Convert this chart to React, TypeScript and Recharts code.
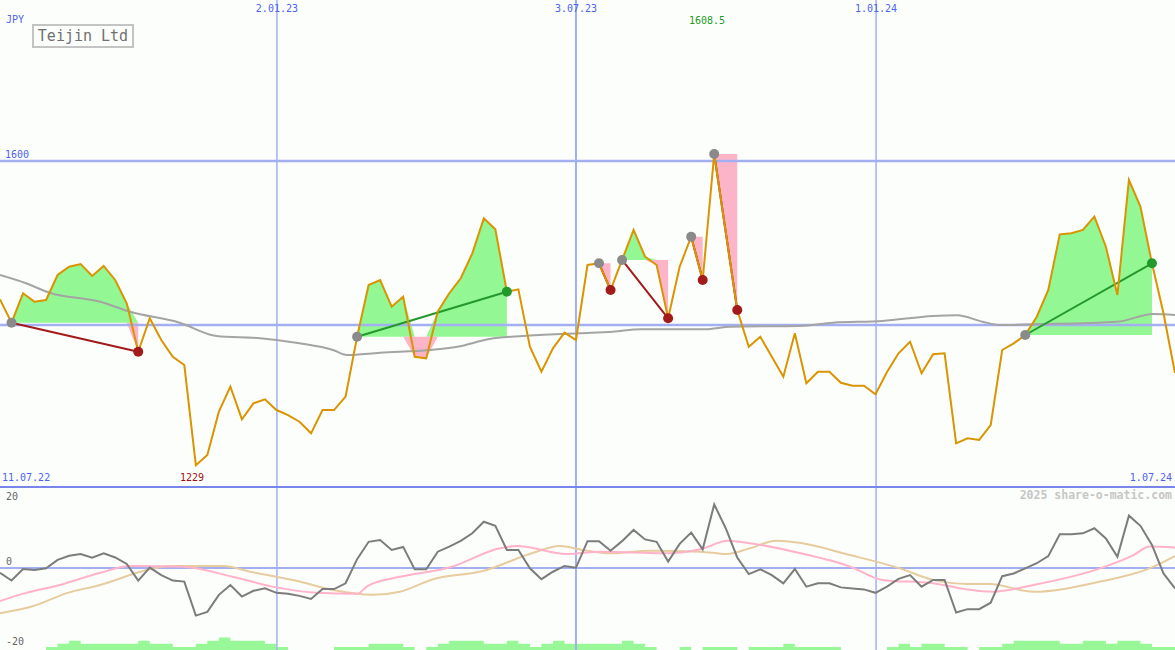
import React from 'react';
import { ComposedChart, Line, Area, XAxis, YAxis, ReferenceLine } from 'recharts';

// weekly closes, 11.07.22 .. 1.07.24, JPY
const price = [
  1431.3, 1402.8, 1438.7, 1428.4, 1430.5, 1461.0, 1471.1, 1474.4, 1459.8, 1472.0,
  1454.9, 1426.5, 1367.4, 1408.2, 1381.7, 1361.3, 1351.2, 1229.0, 1241.5, 1294.3,
  1324.8, 1285.0, 1304.5, 1309.4, 1296.3, 1290.2, 1282.0, 1267.9, 1296.3, 1296.3,
  1312.6, 1385.7, 1448.8, 1454.9, 1422.3, 1434.5, 1361.3, 1359.4, 1416.2, 1438.7,
  1457.0, 1487.4, 1530.1, 1516.7, 1440.6, 1443.5, 1373.5, 1343.0, 1371.6, 1390.6,
  1381.7, 1473.2, 1475.2, 1442.7, 1479.3, 1515.9, 1483.3, 1473.2, 1408.2, 1471.1,
  1507.7, 1454.9, 1608.5, 1513.4, 1418.3, 1373.5, 1385.7, 1361.3, 1337.0, 1389.9,
  1328.9, 1343.0, 1343.0, 1329.6, 1326.0, 1326.0, 1315.5, 1342.7, 1365.5, 1379.6,
  1341.1, 1364.3, 1365.5, 1255.7, 1261.8, 1259.8, 1278.0, 1369.5, 1377.7, 1387.8,
  1410.1, 1442.7, 1510.6, 1511.8, 1515.9, 1532.1, 1495.5, 1436.6, 1576.8, 1544.3,
  1475.2, 1414.3, 1341.5,
];

// long moving average, sampled [week, value]
const priceMa = [
  [0, 1461], [2.2, 1451.2], [4.3, 1439.4], [8.7, 1428.4], [11.3, 1416.2], [15.6, 1402.8],
  [18.8, 1386.6], [22.6, 1383.8], [26, 1377.7], [28.9, 1369.5], [30.1, 1363.4], [33, 1366.2],
  [37.3, 1369.5], [39.7, 1373.5], [42.5, 1382.9], [45.4, 1386.6], [50.3, 1389.9], [53.2, 1391.8],
  [55.6, 1394.8], [61.2, 1394.8], [63.4, 1397.9], [69.4, 1398.8], [72.3, 1402.8], [76.6, 1404.9],
  [81, 1411], [83.1, 1411.8], [85.3, 1404], [86.8, 1400], [89.7, 1400.9], [97, 1404],
  [100.1, 1413.4], [102, 1412.2],
];

// entry / exit weeks
const trades = [
  { entry: 1, exit: 12 },
  { entry: 31, exit: 44 },
  { entry: 52, exit: 53 },
  { entry: 54, exit: 58 },
  { entry: 60, exit: 61 },
  { entry: 62, exit: 64 },
  { entry: 89, exit: 100 },
];

const osc = [
  -1.4, -3.7, -0.3, -0.6, -0.1, 2.4, 3.6, 4.1, 3.0, 4.3,
  3.1, 1.2, -3.7, 0.1, -2.1, -3.7, -4.0, -14.0, -12.9, -7.9,
  -5.0, -8.4, -6.7, -6.0, -7.3, -7.6, -8.2, -9.1, -6.2, -6.2,
  -4.5, 2.6, 7.7, 8.2, 5.3, 6.2, -0.4, -0.4, 4.8, 6.3,
  8.0, 10.2, 13.6, 12.4, 5.3, 5.3, -0.1, -3.3, -1.1, 0.6,
  0.1, 7.9, 7.9, 5.1, 7.9, 11.2, 8.4, 7.7, 1.9, 7.1,
  10.4, 5.5, 18.7, 11.7, 3.1, -1.8, -0.4, -2.1, -4.5, -0.3,
  -5.5, -4.5, -4.5, -5.7, -6.0, -6.3, -7.3, -5.5, -3.2, -2.1,
  -5.5, -3.5, -3.5, -13.1, -12.1, -12.1, -10.2, -2.4, -1.6, -0.1,
  1.4, 3.5, 9.9, 9.9, 10.2, 11.7, 8.7, 3.3, 15.4, 12.4,
  6.8, -1.6, -6.0,
];

const oscFast = [
  [0, -9.7], [2.2, -7.4], [5.2, -5.0], [8.7, -1.4], [11.3, 0.6], [15.9, 0.4], [20.2, -2.6],
  [24, -5.7], [27.5, -7.3], [31, -7.6], [31.9, -5.3], [34.7, -2.6], [39.1, 0.2], [43.4, 5.8],
  [44.9, 6.5], [49.2, 4.1], [52.1, 4.8], [57.9, 4.3], [60.8, 5.5], [63.2, 8.0], [65.1, 7.3],
  [69.4, 4.4], [73.8, 0.4], [76.6, -3.5], [81, -4.5], [83.9, -6.3], [86.2, -7.0], [89.7, -5.0],
  [95.5, -0.1], [98.4, 3.8], [99.8, 6.3], [102, 6.0],
];

const oscSlow = [
  [0, -13.3], [2.9, -11.2], [5.8, -7.4], [8.7, -5.0], [13, -0.4], [14.8, 0.6], [19.4, 0.6],
  [21.7, -1.1], [26, -4.0], [28.9, -6.5], [32.4, -7.9], [34.7, -7.0], [37.6, -3.3], [41.9, -0.9],
  [46.3, 4.5], [48.6, 6.5], [50.6, 5.3], [53, 4.3], [56.4, 5.1], [60.8, 4.8], [63.1, 4.1],
  [65.1, 5.8], [67.4, 8.0], [69.4, 7.4], [73.8, 3.8], [78.1, -0.1], [81, -3.5], [83.9, -4.7],
  [85.9, -4.7], [89.7, -7.0], [95.5, -4.0], [99.8, -0.1], [102, 3.5],
];

const hist = [
  0, 0, 0, 0, 1, 2, 3, 2, 2, 2,
  2, 2, 3, 2, 2, 1, 1, 2, 3, 4,
  3, 3, 3, 2, 1, 0, 0, 0, 0, 1,
  1, 1, 2, 2, 2, 1, 0, 1, 2, 3,
  3, 3, 2, 2, 3, 2, 1, 2, 3, 2,
  2, 2, 2, 2, 3, 2, 1, 0, 0, 1,
  0, 1, 1, 1, 0, 1, 1, 1, 2, 1,
  1, 1, 1, 0, 0, 0, 0, 1, 2, 1,
  2, 2, 1, 1, 0, 1, 1, 2, 3, 3,
  3, 3, 2, 2, 3, 3, 2, 3, 3, 2,
  1, 1, 1,
];

const dateTicks = [
  { i: 24.04, label: '2.01.23' },
  { i: 50, label: '3.07.23' },
  { i: 76.05, label: '1.01.24' },
];
const priceLevels = [1600, 1400];

const W = 1175;
const H = 650;
const MONO = '"DejaVu Sans Mono", monospace';
const BLUE = '#4d62f0';
const OSC_TOP = 23.8; // top edge of the lower panel, in oscillator units

const priceRows = price.map((v, i) => ({ i, v }));
const oscRows = osc.map((v, i) => ({ i, v }));
const histRows = hist.map((v, i) => ({ i, v }));
const pairRows = (pts: number[][]) => pts.map(([i, v]) => ({ i, v }));

const tradeFill = (t: { entry: number; exit: number }) => {
  const base = price[t.entry];
  const rows = [];
  for (let i = t.entry; i <= t.exit; i++) {
    rows.push({ i, up: [base, Math.max(price[i], base)], down: [Math.min(price[i], base), base] });
  }
  return rows;
};

const tradeDot = (color: string) => (props: any) => (
  <circle
    key={`dot-${props.index}`}
    cx={props.cx}
    cy={props.cy}
    r={5}
    fill={props.index === 0 ? '#8a8a8a' : color}
  />
);

const txt = (extra: React.CSSProperties): React.CSSProperties => ({
  position: 'absolute',
  fontFamily: MONO,
  fontSize: 10,
  lineHeight: '10px',
  whiteSpace: 'nowrap',
  color: BLUE,
  ...extra,
});

export default function App() {
  return (
    <div style={{ position: 'absolute', left: 0, top: 0, width: W, height: H, background: '#fcfefc', overflow: 'hidden' }}>
      <ComposedChart width={W} height={H} data={priceRows} margin={{ top: 0, right: 0, bottom: 0, left: 0 }}>
        <XAxis dataKey="i" type="number" domain={[0, price.length - 1]} hide allowDataOverflow />
        <YAxis yAxisId="p" type="number" domain={[1003.66, 1796.34]} hide allowDataOverflow />
        <YAxis yAxisId="o" type="number" domain={[-24.12, 167.06]} hide allowDataOverflow />
        <YAxis yAxisId="h" type="number" domain={[0, 209.7]} hide allowDataOverflow />

        {dateTicks.map((t) => (
          <ReferenceLine
            key={t.label}
            yAxisId="p"
            x={t.i}
            stroke="#a2b0f2"
            strokeWidth={t.i === 50 ? 2 : 1.5}
            label={{ value: t.label, position: 'insideTop', offset: 5, fill: BLUE, fontSize: 10, fontFamily: MONO }}
          />
        ))}
        {priceLevels.map((lvl) => (
          <ReferenceLine
            key={lvl}
            yAxisId="p"
            y={lvl}
            stroke="#a2b0f2"
            strokeWidth={2.5}
            label={lvl === 1600 ? { value: String(lvl), position: 'insideBottomLeft', offset: 3, dx: 2, fill: BLUE, fontSize: 10, fontFamily: MONO } : undefined}
          />
        ))}
        <ReferenceLine
          yAxisId="o"
          y={0}
          stroke="#a2b0f2"
          strokeWidth={2}
          label={{ value: '0', position: 'insideBottomLeft', offset: 3, dx: 3, fill: '#666', fontSize: 10, fontFamily: MONO }}
        />
        <ReferenceLine yAxisId="o" y={OSC_TOP} stroke="#7886ec" strokeWidth={2} />

        {trades.map((t, k) => (
          <Area
            key={`up-${k}`}
            yAxisId="p"
            data={tradeFill(t)}
            dataKey="up"
            type="linear"
            stroke="none"
            fill="#93f793"
            fillOpacity={1}
            activeDot={false}
            isAnimationActive={false}
          />
        ))}
        {trades.map((t, k) => (
          <Area
            key={`down-${k}`}
            yAxisId="p"
            data={tradeFill(t)}
            dataKey="down"
            type="linear"
            stroke="none"
            fill="#fcb4c8"
            fillOpacity={1}
            activeDot={false}
            isAnimationActive={false}
          />
        ))}

        <Area
          yAxisId="h"
          data={histRows}
          dataKey="v"
          type="stepAfter"
          stroke="none"
          fill="#98f898"
          fillOpacity={1}
          activeDot={false}
          isAnimationActive={false}
        />

        <Line yAxisId="p" data={pairRows(priceMa)} dataKey="v" type="monotone" stroke="#a4a4a4" strokeWidth={2} dot={false} activeDot={false} isAnimationActive={false} />
        <Line yAxisId="o" data={pairRows(oscSlow)} dataKey="v" type="monotone" stroke="#e6cc9e" strokeWidth={2} dot={false} activeDot={false} isAnimationActive={false} />
        <Line yAxisId="o" data={pairRows(oscFast)} dataKey="v" type="monotone" stroke="#ffb2c8" strokeWidth={2} dot={false} activeDot={false} isAnimationActive={false} />
        <Line yAxisId="o" data={oscRows} dataKey="v" type="linear" stroke="#7c7c7c" strokeWidth={2} dot={false} activeDot={false} isAnimationActive={false} />

        {trades.map((t, k) => {
          const win = price[t.exit] > price[t.entry];
          const color = win ? '#22992a' : '#a31a1a';
          return (
            <Line
              key={`trade-${k}`}
              yAxisId="p"
              data={[{ i: t.entry, v: price[t.entry] }, { i: t.exit, v: price[t.exit] }]}
              dataKey="v"
              type="linear"
              stroke={color}
              strokeWidth={2}
              dot={tradeDot(color)}
              activeDot={false}
              isAnimationActive={false}
            />
          );
        })}

        <Line yAxisId="p" dataKey="v" type="linear" stroke="#d99400" strokeWidth={2} dot={false} activeDot={false} isAnimationActive={false} />
      </ComposedChart>

      <div style={txt({ left: 6, top: 15 })}>JPY</div>
      <div
        style={{
          position: 'absolute',
          left: 32,
          top: 24,
          width: 102,
          height: 24,
          boxSizing: 'border-box',
          border: '2px solid #c4c4c4',
          fontFamily: MONO,
          fontSize: 15,
          lineHeight: '20px',
          textAlign: 'center',
          color: '#707070',
          background: '#fcfefc',
        }}
      >
        Teijin Ltd
      </div>
      <div style={txt({ left: 689, top: 16, color: '#1f9a1f' })}>1608.5</div>
      <div style={txt({ left: 2, top: 473 })}>11.07.22</div>
      <div style={txt({ left: 180, top: 473, color: '#a01010' })}>1229</div>
      <div style={txt({ right: 3, top: 473 })}>1.07.24</div>
      <div style={txt({ left: 6, top: 491.5, color: '#666' })}>20</div>
      <div style={txt({ left: 6, top: 637, color: '#666' })}>-20</div>
      <div style={txt({ right: 3, top: 490, color: '#c6c6c6', fontSize: 11.5, lineHeight: '11.5px', fontWeight: 'bold' })}>
        2025 share-o-matic.com
      </div>
    </div>
  );
}
